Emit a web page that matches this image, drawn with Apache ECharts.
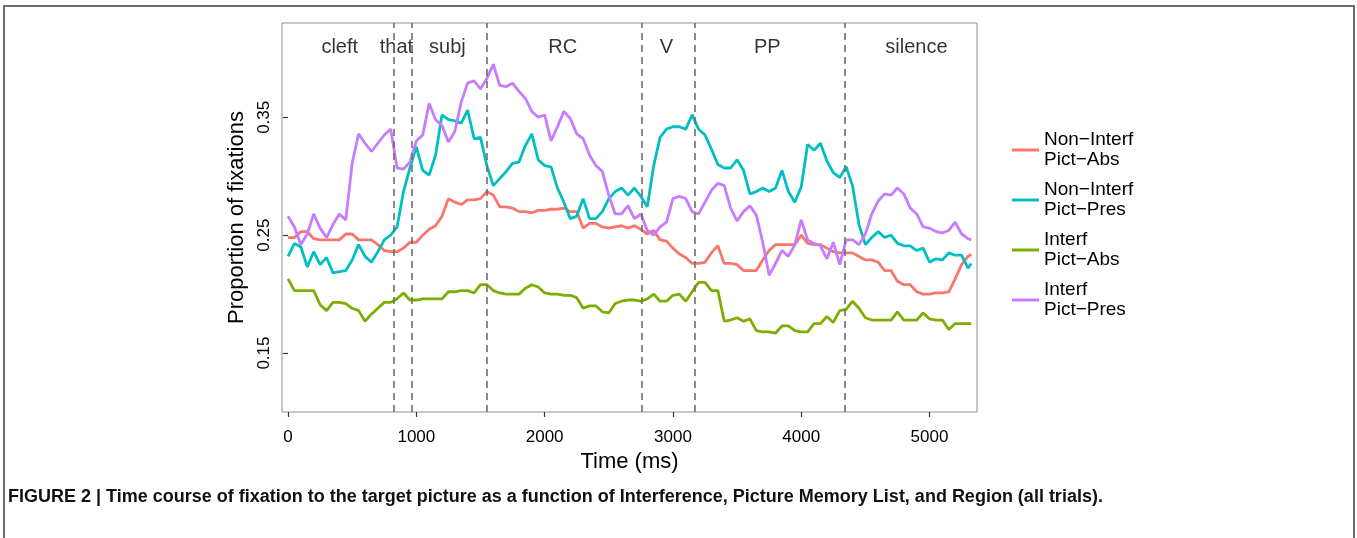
<!DOCTYPE html>
<html>
<head>
<meta charset="utf-8">
<title>Figure 2 - Time course of fixation</title>
<script src="https://cdn.jsdelivr.net/npm/echarts@6/dist/echarts.min.js"></script>
<style>
  html, body { margin: 0; padding: 0; background: #fff; }
  #chart { width: 1357px; height: 538px; }
</style>
</head>
<body>
<div id="chart"></div>
<script>
// ── Data (time in ms, proportion of fixations) ──
const times = [
  0, 50, 100, 150, 200, 250, 300, 350, 400, 450, 500, 550, 600, 650, 700, 750, 800, 850, 900, 950,
  1000, 1050, 1100, 1150, 1200, 1250, 1300, 1350, 1400, 1450, 1500, 1550, 1600, 1650, 1700, 1750, 1800, 1850, 1900, 1950,
  2000, 2050, 2100, 2150, 2200, 2250, 2300, 2350, 2400, 2450, 2500, 2550, 2600, 2650, 2700, 2750, 2800, 2850, 2900, 2950,
  3000, 3050, 3100, 3150, 3200, 3250, 3300, 3350, 3400, 3450, 3500, 3550, 3600, 3650, 3700, 3750, 3800, 3850, 3900, 3950,
  4000, 4050, 4100, 4150, 4200, 4250, 4300, 4350, 4400, 4450, 4500, 4550, 4600, 4650, 4700, 4750, 4800, 4850, 4900, 4950,
  5000, 5050, 5100, 5150, 5200, 5250, 5300, 5325
];

const nonInterfAbs = [
  0.248, 0.248, 0.253, 0.253, 0.247, 0.246, 0.246, 0.246, 0.246, 0.251, 0.251, 0.246, 0.246, 0.246, 0.242, 0.237, 0.236, 0.236, 0.239, 0.244,
  0.244, 0.250, 0.255, 0.258, 0.266, 0.281, 0.278, 0.276, 0.280, 0.280, 0.281, 0.287, 0.284, 0.274, 0.274, 0.273, 0.270, 0.270, 0.269, 0.271,
  0.271, 0.272, 0.272, 0.273, 0.270, 0.270, 0.256, 0.260, 0.260, 0.257, 0.256, 0.257, 0.258, 0.256, 0.258, 0.255, 0.251, 0.254, 0.246, 0.245,
  0.239, 0.234, 0.231, 0.226, 0.226, 0.227, 0.235, 0.241, 0.226, 0.226, 0.225, 0.220, 0.220, 0.220, 0.229, 0.237, 0.242, 0.242, 0.242, 0.242,
  0.250, 0.243, 0.242, 0.242, 0.239, 0.236, 0.235, 0.235, 0.235, 0.232, 0.229, 0.229, 0.227, 0.220, 0.220, 0.211, 0.208, 0.208, 0.202, 0.200,
  0.200, 0.201, 0.201, 0.202, 0.213, 0.225, 0.232, 0.234
];

const nonInterfPres = [
  0.232, 0.243, 0.240, 0.223, 0.236, 0.225, 0.231, 0.218, 0.219, 0.220, 0.229, 0.242, 0.232, 0.227, 0.236, 0.246, 0.250, 0.257, 0.287, 0.307,
  0.325, 0.305, 0.301, 0.318, 0.352, 0.348, 0.347, 0.345, 0.356, 0.332, 0.333, 0.309, 0.292, 0.298, 0.304, 0.311, 0.312, 0.326, 0.336, 0.314,
  0.309, 0.308, 0.290, 0.278, 0.264, 0.266, 0.281, 0.264, 0.264, 0.270, 0.281, 0.287, 0.290, 0.284, 0.290, 0.283, 0.274, 0.309, 0.333, 0.340,
  0.342, 0.342, 0.340, 0.352, 0.340, 0.335, 0.323, 0.310, 0.307, 0.307, 0.314, 0.305, 0.285, 0.287, 0.290, 0.287, 0.290, 0.305, 0.287, 0.278,
  0.291, 0.327, 0.322, 0.328, 0.313, 0.303, 0.299, 0.308, 0.292, 0.259, 0.242, 0.248, 0.253, 0.248, 0.250, 0.243, 0.241, 0.241, 0.237, 0.239,
  0.227, 0.230, 0.229, 0.235, 0.233, 0.233, 0.222, 0.226
];

const interfAbs = [
  0.213, 0.203, 0.203, 0.203, 0.203, 0.191, 0.186, 0.193, 0.193, 0.192, 0.188, 0.186, 0.177, 0.183, 0.188, 0.193, 0.193, 0.196, 0.201, 0.195,
  0.195, 0.196, 0.196, 0.196, 0.196, 0.202, 0.202, 0.203, 0.203, 0.201, 0.208, 0.208, 0.203, 0.201, 0.200, 0.200, 0.200, 0.205, 0.208, 0.206,
  0.201, 0.200, 0.200, 0.199, 0.199, 0.197, 0.188, 0.190, 0.190, 0.185, 0.184, 0.192, 0.194, 0.195, 0.195, 0.194, 0.196, 0.200, 0.194, 0.194,
  0.199, 0.200, 0.194, 0.202, 0.210, 0.210, 0.203, 0.203, 0.177, 0.178, 0.180, 0.177, 0.179, 0.169, 0.168, 0.168, 0.167, 0.173, 0.173, 0.169,
  0.168, 0.168, 0.175, 0.175, 0.181, 0.176, 0.186, 0.187, 0.194, 0.188, 0.180, 0.178, 0.178, 0.178, 0.178, 0.185, 0.178, 0.178, 0.178, 0.184,
  0.179, 0.178, 0.178, 0.170, 0.175, 0.175, 0.175, 0.175
];

const interfPres = [
  0.266, 0.257, 0.242, 0.251, 0.268, 0.256, 0.248, 0.259, 0.268, 0.263, 0.311, 0.336, 0.328, 0.321, 0.328, 0.335, 0.340, 0.307, 0.306, 0.312,
  0.330, 0.335, 0.362, 0.348, 0.343, 0.329, 0.338, 0.363, 0.379, 0.381, 0.374, 0.383, 0.395, 0.377, 0.376, 0.379, 0.372, 0.366, 0.355, 0.350,
  0.352, 0.330, 0.342, 0.355, 0.349, 0.336, 0.332, 0.318, 0.309, 0.304, 0.284, 0.268, 0.268, 0.275, 0.264, 0.268, 0.254, 0.250, 0.257, 0.261,
  0.281, 0.283, 0.281, 0.270, 0.268, 0.278, 0.288, 0.294, 0.292, 0.273, 0.262, 0.270, 0.275, 0.267, 0.244, 0.216, 0.226, 0.237, 0.232, 0.242,
  0.263, 0.246, 0.243, 0.241, 0.230, 0.244, 0.225, 0.246, 0.246, 0.242, 0.251, 0.268, 0.279, 0.285, 0.284, 0.290, 0.285, 0.273, 0.268, 0.257,
  0.256, 0.253, 0.252, 0.254, 0.261, 0.251, 0.247, 0.246
];

const seriesNames = ['Non−Interf\nPict−Abs', 'Non−Interf\nPict−Pres', 'Interf\nPict−Abs', 'Interf\nPict−Pres'];
const seriesColors = ['#F8766D', '#00BFC4', '#7CAE00', '#C77CFF'];

// Region boundaries (ms) and region labels placed in each region
const regionBounds = [824, 966, 1551, 2759, 3170, 4339];
const regionNames = ['cleft', 'that', 'subj', 'RC', 'V', 'PP', 'silence'];
const regionLabelTimes = [403, 845, 1242, 2141, 2949, 3735, 4898];
const regionLabelY = 0.4093;

const xTicks = [0, 1000, 2000, 3000, 4000, 5000];
const yTicks = [0.15, 0.25, 0.35];

const caption = 'FIGURE 2 | Time course of fixation to the target picture as a function of Interference, Picture Memory List, and Region (all trials).';

// ── Build chart ──
const chart = echarts.init(document.getElementById('chart'), null, { renderer: 'canvas' });
const FONT = "'Liberation Sans', Arial, Helvetica, sans-serif";

const values = [nonInterfAbs, nonInterfPres, interfAbs, interfPres];
const lineSeries = values.map((vals, i) => ({
  name: seriesNames[i],
  type: 'line',
  showSymbol: false,
  symbol: 'none',
  color: seriesColors[i],
  lineStyle: { width: 2.8, color: seriesColors[i] },
  data: times.map((t, j) => [t, vals[j]]),
  z: 3,
}));

// Dashed region boundaries (drawn under the data lines)
lineSeries.unshift({
  name: 'bounds',
  type: 'line',
  data: [],
  z: 2,
  markLine: {
    silent: true,
    symbol: 'none',
    label: { show: false },
    lineStyle: { type: [7, 5], width: 1.6, color: '#6e6e6e' },
    data: regionBounds.map(t => ({ xAxis: t })),
  },
});

const regionSeries = {
  name: 'regions',
  type: 'scatter',
  symbolSize: 0,
  silent: true,
  z: 4,
  data: regionLabelTimes.map((t, i) => [t, regionLabelY, regionNames[i]]),
  label: {
    show: true,
    position: 'inside',
    formatter: p => p.data[2],
    color: '#000',
    fontSize: 20,
    fontFamily: FONT,
  },
};

chart.setOption({
  backgroundColor: '#fff',
  animation: false,
  textStyle: { fontFamily: FONT },
  grid: {
    left: 282, right: 380, top: 23, bottom: 126,
    show: true, borderColor: '#8f8f8f', borderWidth: 1, backgroundColor: 'transparent',
  },
  legend: {
    data: seriesNames,
    orient: 'vertical',
    left: 1007, top: 125,
    icon: 'rect',
    itemWidth: 27, itemHeight: 3,
    itemGap: 10,
    textStyle: { fontSize: 19, lineHeight: 20, color: '#000', fontFamily: FONT },
    selectedMode: false,
  },
  xAxis: {
    type: 'value',
    min: -47, max: 5370,
    name: 'Time (ms)',
    nameLocation: 'middle',
    nameGap: 31,
    nameTextStyle: { fontSize: 22, color: '#000', fontFamily: FONT },
    axisLine: { show: false },
    splitLine: { show: false },
    axisTick: { show: true, length: 5, customValues: xTicks, lineStyle: { color: '#333', width: 1.2 } },
    axisLabel: {
      customValues: xTicks, margin: 17, fontSize: 17, color: '#000', fontFamily: FONT,
      formatter: v => String(v),
    },
  },
  yAxis: {
    type: 'value',
    min: 0.10, max: 0.43,
    name: 'Proportion of fixations',
    nameLocation: 'middle',
    nameGap: 26,
    nameTextStyle: { fontSize: 22, color: '#000', fontFamily: FONT },
    axisLine: { show: false },
    splitLine: { show: false },
    axisTick: { show: true, length: 5, customValues: yTicks, lineStyle: { color: '#333', width: 1.2 } },
    axisLabel: {
      customValues: yTicks, rotate: 90, margin: 9, fontSize: 17, color: '#000', fontFamily: FONT,
      formatter: v => v.toFixed(2),
    },
  },
  graphic: [
    {
      type: 'rect',
      silent: true,
      shape: { x: 4, y: 6, width: 1350, height: 600 },
      style: { fill: 'none', stroke: '#6b6b6b', lineWidth: 2 },
    },
    {
      type: 'text',
      left: 8, top: 488,
      silent: true,
      style: {
        text: caption,
        fill: '#111',
        font: "bold 18px 'Liberation Sans', Arial, sans-serif",
      },
    },
  ],
  series: [...lineSeries, regionSeries],
});
</script>
</body>
</html>
